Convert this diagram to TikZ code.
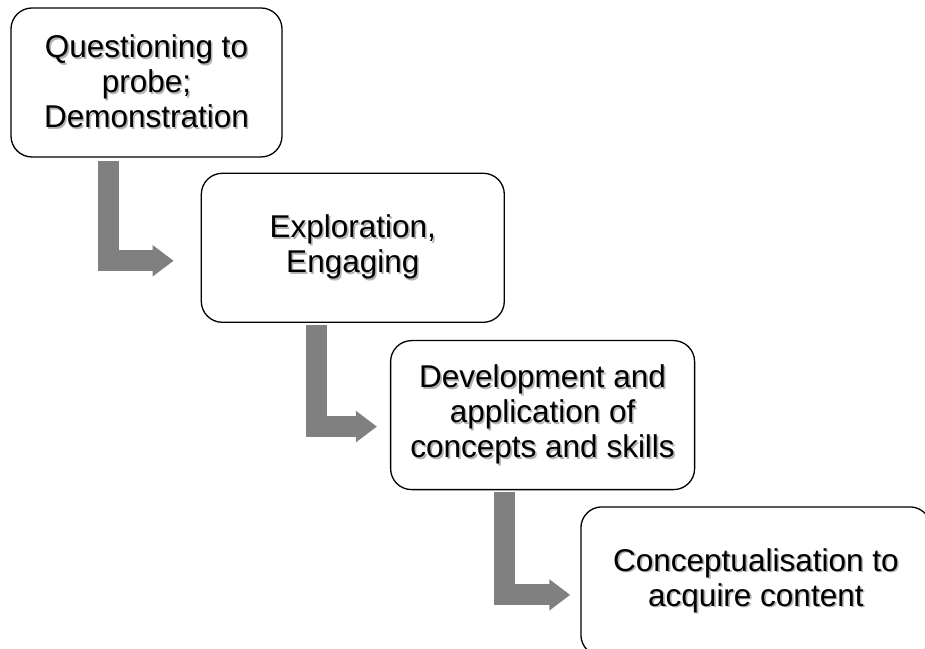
\documentclass[tikz,border=0pt]{standalone}
\usepackage{fontspec}
\setmainfont{Liberation Sans}
\usepackage{tikz}
\usetikzlibrary{positioning,arrows.meta}
% soft grey shadow under a line of text
\newcommand{\shline}[1]{\rlap{\kern1.6pt\raisebox{-1.6pt}{\color{black!30}#1}}#1}

\begin{document}
\begin{tikzpicture}[x=1pt,y=1pt,
  stagebox/.style={draw,line width=1.3pt,rounded corners=21pt,fill=white,
    minimum height=149pt,inner sep=0pt,align=center,
    font=\fontsize{31.5}{35}\selectfont},
  bendarrow/.style={draw=black!50,line width=21pt,
    -{Triangle[width=30pt,length=21pt]}}]
\useasboundingbox (0,0) rectangle (925,648);
\clip (0,0) rectangle (925,648);
% Four stages, stepping down to the right
\node[stagebox,minimum width=271pt] (b1) at (146.5,565.5) {\shline{Questioning to}\\\shline{probe;}\\\shline{Demonstration}};
\node[stagebox,minimum width=303pt,below right=15pt and -82pt of b1] (b2) {\shline{Exploration,}\\\shline{Engaging}};
\node[stagebox,minimum width=304pt,below right=17pt and -115pt of b2] (b3) {\shline{Development and}\\\shline{application of}\\\shline{concepts and skills}};
\node[stagebox,minimum width=350pt,below right=16pt and -115pt of b3] (b4) {\shline{Conceptualisation to}\\\shline{acquire content}};
% bent arrows between the stages
\draw[bendarrow] ([xshift=98.5pt,yshift=-3pt]b1.south west) |- ([xshift=-27pt,yshift=-13pt]b2.west);
\draw[bendarrow] ([xshift=115.5pt,yshift=-2pt]b2.south west) |- ([xshift=-13pt,yshift=-11.5pt]b3.west);
\draw[bendarrow] ([xshift=114.5pt,yshift=-2pt]b3.south west) |- ([xshift=-10pt,yshift=-13.5pt]b4.west);
\end{tikzpicture}
\end{document}
